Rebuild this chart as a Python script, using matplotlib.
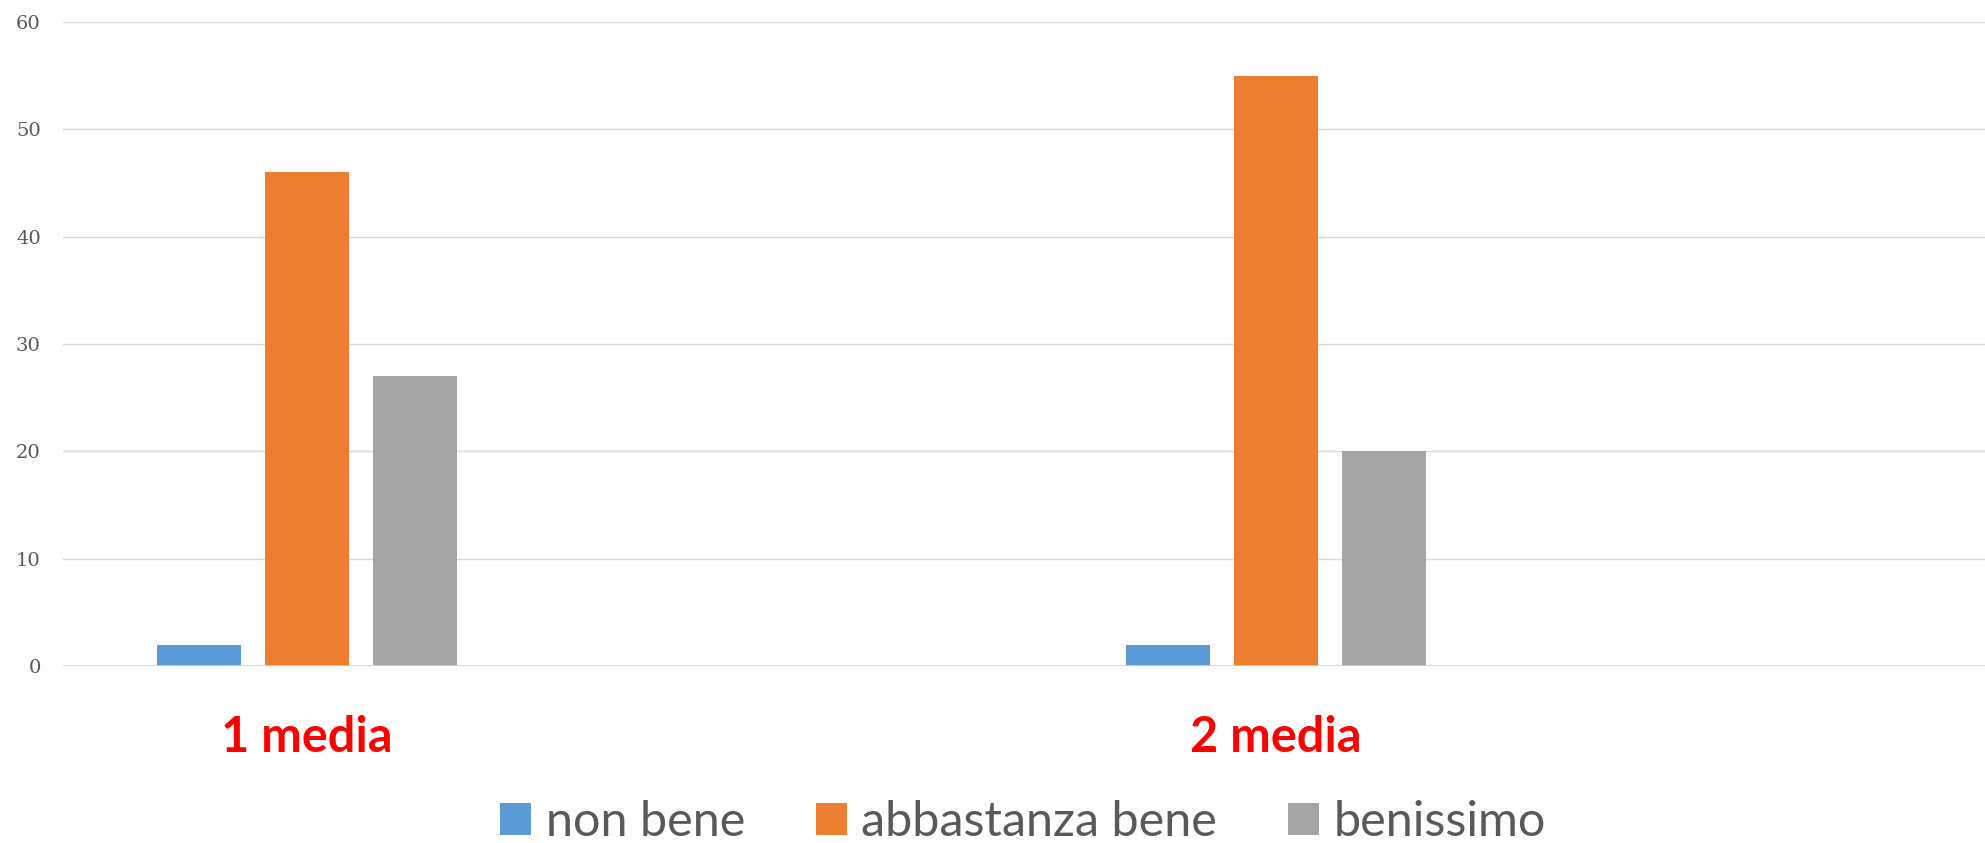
import numpy as np
import matplotlib.pyplot as plt
from matplotlib.patches import Patch
from matplotlib.transforms import blended_transform_factory

groups = ['1 media', '2 media']
series = ['non bene', 'abbastanza bene', 'benissimo']
non_bene = [2, 2]
abbastanza_bene = [46, 55]
benissimo = [27, 20]
colors = ['#5B9BD5', '#ED7D31', '#A5A5A5']

values = [non_bene, abbastanza_bene, benissimo]

W, H = 1985, 843
fig = plt.figure(figsize=(W / 100, H / 100), dpi=100)
ax = fig.add_axes([63 / W, 1 - 666 / H, 1 - 63 / W, (666 - 22) / H])

x = np.arange(len(groups))
step = 0.1114
width = 0.0866
for i, vals in enumerate(values):
    ax.bar(x + (i - 1) * step, vals, width, color=colors[i], zorder=3)

ax.set_xlim(-0.2512, 1.7313)
ax.set_ylim(0, 60)
ax.set_yticks(range(0, 61, 10))
ax.yaxis.grid(True, color='#D9D9D9', linewidth=1.0, zorder=0)
ax.axhline(0, color='#D0D0D0', linewidth=1.2, zorder=4)
for s in ax.spines.values():
    s.set_visible(False)
ax.set_xticks([])
ax.tick_params(axis='y', length=0, pad=16, labelsize=14, labelcolor='#595959')
for lab in ax.get_yticklabels():
    lab.set_family('DejaVu Serif')

# category labels under the groups
tr = blended_transform_factory(ax.transData, fig.transFigure)
for xi, g in zip(x, groups):
    ax.text(xi, (H - 752) / H, g, transform=tr, ha='center', va='baseline',
            color='#FF0000', fontsize=35, fontweight='bold', family='Lato')

handles = [Patch(facecolor=c, edgecolor='none') for c in colors]
leg = fig.legend(handles, series, loc='center', ncol=3,
                 bbox_to_anchor=(1023 / W, 1 - 822 / H), frameon=False,
                 prop={'family': 'Lato', 'size': 35}, handlelength=0.64,
                 handleheight=0.62, handletextpad=0.3, columnspacing=1.45,
                 borderpad=0, borderaxespad=0)
for t in leg.get_texts():
    t.set_color('#595959')

fig.savefig('out.png', dpi=100)
